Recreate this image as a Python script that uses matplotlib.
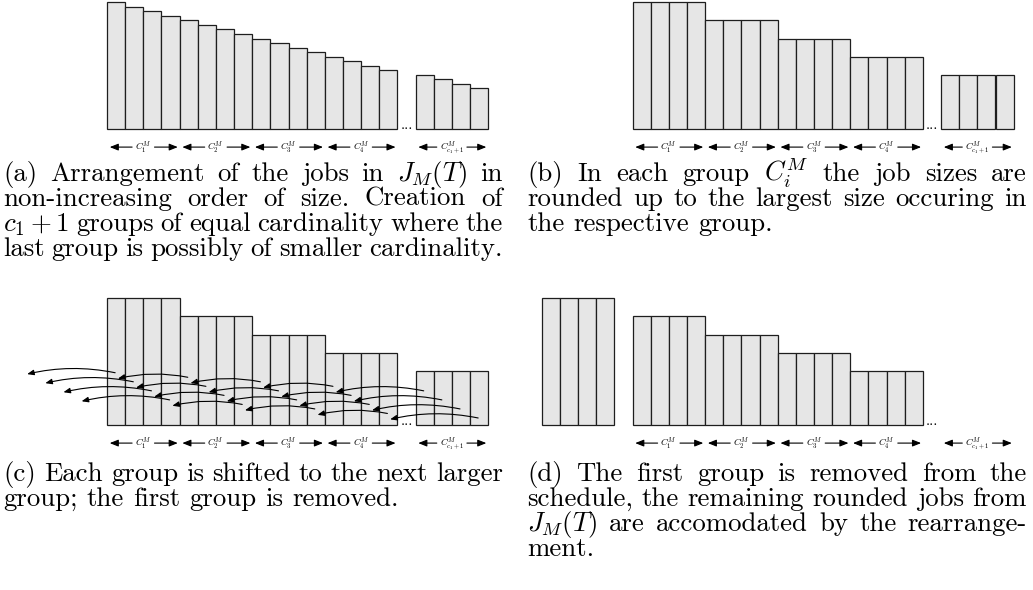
import matplotlib
matplotlib.use('Agg')
import matplotlib.pyplot as plt
from matplotlib.patches import FancyArrowPatch

plt.rcParams['font.family'] = ['cmr10', 'DejaVu Serif']
plt.rcParams['mathtext.fontset'] = 'cm'
plt.rcParams['axes.formatter.use_mathtext'] = True

# ---------------- data ----------------
GROUP_SIZE = 4
N_GROUPS = 5
job_sizes_sorted = [28, 27, 26, 25, 24, 23, 22, 21, 20, 19, 18, 17, 16, 15,
                    14, 13, 12, 11, 10, 9]
rounded_sizes = [28, 24, 20, 16, 12]          # per group, panel (b) and (c)
removed_group_size = 28                        # panel (d), removed group
rearranged_sizes = [24, 20, 16, 12]            # panel (d), groups 1..4
group_labels = [r'$C_1^M$', r'$C_2^M$', r'$C_3^M$', r'$C_4^M$', r'$C_{c_1+1}^M$']

caption_a = ["(a) Arrangement of the jobs in $J_M(T)$ in",
             "non-increasing order of size. Creation of",
             "$c_1+1$ groups of equal cardinality where the",
             "last group is possibly of smaller cardinality."]
caption_b = ["(b) In each group $C_i^M$ the job sizes are",
             "rounded up to the largest size occuring in",
             "the respective group."]
caption_c = ["(c) Each group is shifted to the next larger",
             "group; the first group is removed."]
caption_d = ["(d) The first group is removed from the",
             "schedule, the remaining rounded jobs from",
             "$J_M(T)$ are accomodated by the rearrange-",
             "ment."]

# ---------------- layout ----------------
W, H, DPI = 1033, 590, 100
UX, UY = 18.15, 4.524          # pixels per bar / per size unit
FILL, EDGE = '#e6e6e6', '#1e1e1e'

fig = plt.figure(figsize=(W / DPI, H / DPI), dpi=DPI)


def make_ax(px0, px1, py0, py1, ox, base):
    ax = fig.add_axes([px0 / W, 1 - py1 / H, (px1 - px0) / W, (py1 - py0) / H])
    ax.set_xlim((px0 - ox) / UX, (px1 - ox) / UX)
    ax.set_ylim((base - py1) / UY, (base - py0) / UY)
    ax.axis('off')
    return ax


group_starts = [g * GROUP_SIZE + (1 if g == N_GROUPS - 1 else 0) for g in range(N_GROUPS)]


def bars(ax, starts, sizes_per_bar):
    xs, hs = [], []
    for s, sizes in zip(starts, sizes_per_bar):
        for j, h in enumerate(sizes):
            xs.append(s + j)
            hs.append(h)
    ax.bar(xs, hs, width=1.0, align='edge', color=FILL, edgecolor=EDGE,
           linewidth=0.9, zorder=1)


def labels(ax, starts, y=-4.0):
    for s, lab in zip(starts, group_labels):
        x0, x1 = s + 0.15, s + GROUP_SIZE - 0.1
        xc = s + GROUP_SIZE / 2
        for xe, col in ((x0, 'black'), (x1, 'none')):
            ax.annotate(lab, xy=(xe, y), xytext=(xc, y), ha='center', va='center',
                        fontsize=6.8, color=col,
                        arrowprops=dict(arrowstyle='-|>,head_length=0.75,head_width=0.3',
                                        lw=0.8, color='black', shrinkA=0, shrinkB=0))


def dots(ax, x=16.5):
    ax.text(x, 0.0, '...', ha='center', va='baseline', fontsize=11)


# panel (a)
ax_a = make_ax(0, 516, 0, 165, 107, 129)
bars(ax_a, group_starts,
     [job_sizes_sorted[g * GROUP_SIZE:(g + 1) * GROUP_SIZE] for g in range(N_GROUPS)])
labels(ax_a, group_starts)
dots(ax_a)

# panel (b)
ax_b = make_ax(516, 1033, 0, 165, 632.5, 129)
bars(ax_b, group_starts, [[h] * GROUP_SIZE for h in rounded_sizes])
labels(ax_b, group_starts)
dots(ax_b)

# panel (c)
ax_c = make_ax(0, 516, 290, 460, 107, 425)
bars(ax_c, group_starts, [[h] * GROUP_SIZE for h in rounded_sizes])
labels(ax_c, group_starts)
dots(ax_c)
for g in range(N_GROUPS):
    dst_start = group_starts[g - 1] if g > 0 else -5
    for j in range(GROUP_SIZE):
        y = 11.25 - g - 2 * j
        src = group_starts[g] + j + 0.45
        dst = dst_start + j + 0.6
        arr = FancyArrowPatch((src, y + 0.3), (dst, y), arrowstyle='-|>,head_length=4,head_width=1.6',
                              connectionstyle='arc3,rad=0.11', mutation_scale=1,
                              lw=0.8, color='black', shrinkA=0, shrinkB=0, zorder=3)
        ax_c.add_patch(arr)

# panel (d)
ax_d = make_ax(516, 1033, 290, 460, 632.5, 425)
bars(ax_d, [-5] + group_starts[:4],
     [[removed_group_size] * GROUP_SIZE] + [[h] * GROUP_SIZE for h in rearranged_sizes])
labels(ax_d, group_starts)
dots(ax_d)

# ---------------- captions ----------------
renderer = fig.canvas.get_renderer()
CAP_SIZE0 = 13.5
probe = fig.text(0, 0, caption_a[-1], fontsize=CAP_SIZE0)
natural = probe.get_window_extent(renderer).width
probe.remove()
CAP_SIZE = CAP_SIZE0 * 512.0 / natural


def paragraph(lines, x0, x1, y0, dy=25.0):
    for k, line in enumerate(lines):
        yb = 1 - (y0 + k * dy) / H
        words = line.split(' ')
        ts = [fig.text(0, yb, w, fontsize=CAP_SIZE, va='baseline', ha='left') for w in words]
        ws = [t.get_window_extent(renderer).width for t in ts]
        if k == len(lines) - 1:
            sp = fig.text(0, 0, 'a a', fontsize=CAP_SIZE)
            sp2 = fig.text(0, 0, 'aa', fontsize=CAP_SIZE)
            nat_gap = sp.get_window_extent(renderer).width - sp2.get_window_extent(renderer).width
            sp.remove()
            sp2.remove()
            gap = min(nat_gap, (x1 - x0 - sum(ws)) / max(len(words) - 1, 1))
        else:
            gap = (x1 - x0 - sum(ws)) / (len(words) - 1)
        x = x0
        for t, w in zip(ts, ws):
            t.set_x(x / W)
            x += w + gap


paragraph(caption_a, 3, 503, 181)
paragraph(caption_b, 527, 1027, 181)
paragraph(caption_c, 3, 503, 481)
paragraph(caption_d, 527, 1027, 481)

fig.savefig('out.png', dpi=DPI)
